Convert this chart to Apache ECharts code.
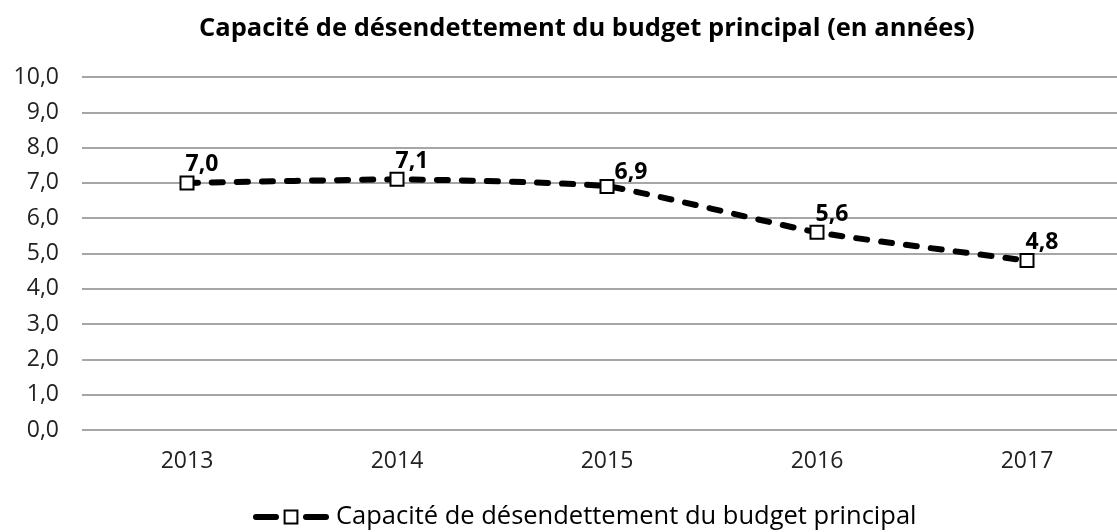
<!DOCTYPE html>
<html>
<head>
<meta charset="utf-8">
<script src="https://cdn.jsdelivr.net/npm/echarts@6/dist/echarts.min.js"></script>
<style>
html, body { margin: 0; padding: 0; background: #fff; overflow: hidden; }
#chart { width: 1117px; height: 532px; }
</style>
</head>
<body>
<div id="chart"></div>
<script>
// données
const years = ['2013', '2014', '2015', '2016', '2017'];
const capacite = [7.0, 7.1, 6.9, 5.6, 4.8];
const seriesName = 'Capacité de désendettement du budget principal';
const titleText = 'Capacité de désendettement du budget principal (en années)';

const fmt = v => v.toFixed(1).replace('.', ',');
const font = '"Open Sans", "DejaVu Sans", sans-serif';

// l'étiquette de 2015 est décalée vers la droite dans l'original
const points = capacite.map((v, i) => i === 2
    ? { value: v, label: { offset: [24, 10] } }
    : v);

let myChart = echarts.init(document.getElementById('chart'));
myChart.setOption({
    animation: false,
    title: {
        text: titleText,
        left: 194,
        top: 11,
        textStyle: { fontFamily: font, fontSize: 25.5, fontWeight: 'bold', color: '#000' }
    },
    grid: { left: 82, width: 1050, top: 77, bottom: 102, outerBoundsMode: 'none' },
    legend: {
        bottom: -3,
        left: 248,
        itemWidth: 70,
        itemHeight: 16,
        itemGap: 8,
        lineStyle: { width: 6, type: [20, 30] },
        textStyle: { fontFamily: font, fontSize: 25.5, color: '#000', padding: [0, 0, 0, 5] }
    },
    xAxis: {
        type: 'category',
        data: years,
        boundaryGap: true,
        axisLine: { show: false },
        axisTick: { show: false },
        axisLabel: { fontFamily: font, fontSize: 23, color: '#222', margin: 20 }
    },
    yAxis: {
        type: 'value',
        min: 0,
        max: 10,
        interval: 1,
        axisLabel: { fontFamily: font, fontSize: 23, color: '#222', margin: 23, formatter: fmt },
        splitLine: { lineStyle: { color: '#a6a6a6', width: 2 } }
    },
    series: [{
        name: seriesName,
        type: 'line',
        data: points,
        smooth: 0.15,
        symbol: 'rect',
        symbolSize: 13,
        itemStyle: { color: '#fff', borderColor: '#000', borderWidth: 2 },
        lineStyle: { color: '#000', width: 6, type: [11, 14], cap: 'round' },
        label: {
            show: true,
            position: 'top',
            offset: [15, 6],
            fontFamily: font,
            fontSize: 23,
            fontWeight: 'bold',
            color: '#000',
            formatter: p => fmt(p.value)
        },
        z: 3
    }]
});
</script>
</body>
</html>
